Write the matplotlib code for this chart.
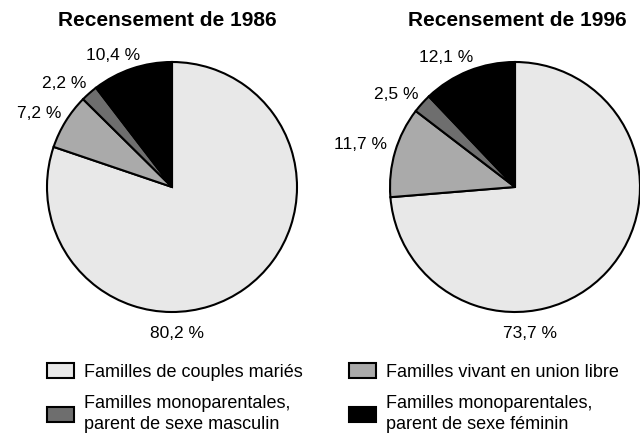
import matplotlib.pyplot as plt
from matplotlib.patches import Patch

plt.rcParams['font.family'] = ['Liberation Sans', 'DejaVu Sans']

# categories (in drawing order, clockwise from 12 o'clock)
categories = ["Familles de couples mariés",
              "Familles vivant en union libre",
              "Familles monoparentales,\nparent de sexe masculin",
              "Familles monoparentales,\nparent de sexe féminin"]
years = ["1986", "1996"]
vals_1986 = [80.2, 7.2, 2.2, 10.4]
vals_1996 = [73.7, 11.7, 2.5, 12.1]

colors = ["#e8e8e8", "#aaaaaa", "#6e6e6e", "#000000"]

# label positions in pie units (radius = 1), same order as values
lab_pos_1986 = [(0.04, -1.17), (-1.06, 0.59), (-0.86, 0.83), (-0.47, 1.05)]
lab_pos_1996 = [(0.12, -1.17), (-1.24, 0.34), (-0.95, 0.74), (-0.55, 1.04)]

W, H = 640, 434
fig = plt.figure(figsize=(W / 100, H / 100), dpi=100)

R = 125      # pie radius in pixels
lim = 1.1
side = 2 * lim * R


def pie_axes(cx, cy):
    return fig.add_axes([(cx - side / 2) / W, (H - cy - side / 2) / H, side / W, side / H])


def fmt(v):
    return f"{v:.1f} %".replace(".", ",")


def draw(ax, vals, pos, year, title_dx):
    wedges, _ = ax.pie(vals, colors=colors, startangle=90, counterclock=False,
                       wedgeprops=dict(edgecolor="black", linewidth=1.5))
    ax.set_xlim(-lim, lim)
    ax.set_ylim(-lim, lim)
    ax.set_aspect("equal")
    ax.axis("off")
    for v, (x, y) in zip(vals, pos):
        ax.text(x, y, fmt(v), ha="center", va="center", fontsize=12.5)
    ax.text(title_dx, 1.335, "Recensement de " + year, ha="center", va="center",
            fontsize=15, fontweight="bold")
    return wedges


ax1 = pie_axes(172, 187)
draw(ax1, vals_1986, lab_pos_1986, years[0], -0.036)
ax2 = pie_axes(515, 187)
draw(ax2, vals_1996, lab_pos_1996, years[1], 0.02)

handles = [Patch(facecolor=c, edgecolor="black", linewidth=1.5) for c in colors]
order = [0, 2, 1, 3]
leg = fig.legend([handles[i] for i in order], [categories[i] for i in order],
                 ncol=2, frameon=False, fontsize=13,
                 loc="upper left", bbox_to_anchor=(47 / W, 1 - 363 / H),
                 borderpad=0, borderaxespad=0,
                 handlelength=1.5, handleheight=0.9, handletextpad=0.55,
                 columnspacing=2.55, labelspacing=0.8)
for t in leg.get_texts():
    t.set_linespacing(1.3)

fig.savefig("out.png", dpi=100)
